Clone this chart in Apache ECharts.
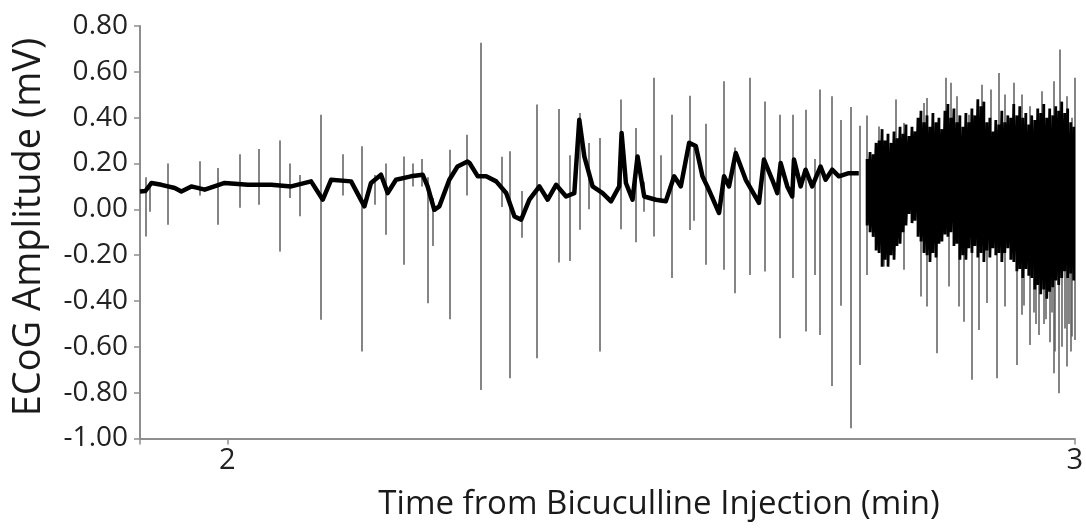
<!DOCTYPE html>
<html>
<head>
<meta charset="utf-8">
<script src="https://cdn.jsdelivr.net/npm/echarts@6/dist/echarts.min.js"></script>
<style>
html,body{margin:0;padding:0;background:#fff;}
#chart{width:1086px;height:529px;}
</style>
</head>
<body>
<div id="chart"></div>
<script>
// ---- axis ----
const xMin = 1.897, xMax = 3;
const xLabelValues = [2, 3];
const xTickValues = [1.897, 2, 3];
const yMin = -1, yMax = 0.8, yStep = 0.2;

// ---- slow baseline of the trace (time in min, amplitude in mV) ----
const baselineT = [1.897,1.9034,1.9105,1.9223,1.9380,1.9458,1.9576,1.9734,1.9969,2.0244,2.0518,2.0754,2.0989,2.1127,2.1225,2.1461,2.1618,2.1696,2.1814,2.1893,2.1991,2.2167,2.2305,2.2364,2.2443,2.2502,2.2620,2.2717,2.2835,2.2859,2.2956,2.3055,2.3173,2.3291,2.3389,2.3468,2.3565,2.3683,2.3781,2.3880,2.3998,2.4095,2.4154,2.4213,2.4311,2.4429,2.4528,2.4625,2.4653,2.4704,2.4782,2.4841,2.4920,2.5058,2.5175,2.5273,2.5352,2.5450,2.5529,2.5607,2.5665,2.5803,2.5862,2.5921,2.6000,2.6118,2.6274,2.6333,2.6431,2.6490,2.6530,2.6608,2.6667,2.6687,2.6766,2.6824,2.6902,2.7001,2.7060,2.7138,2.7217,2.7334,2.7452];
const baselineV = [0.078,0.08,0.115,0.107,0.093,0.078,0.10,0.086,0.115,0.107,0.107,0.10,0.122,0.042,0.129,0.122,0.013,0.115,0.151,0.071,0.129,0.144,0.151,0.10,-0.002,0.013,0.129,0.187,0.209,0.202,0.144,0.144,0.122,0.071,-0.031,-0.045,0.042,0.10,0.042,0.107,0.056,0.071,0.391,0.231,0.10,0.071,0.035,0.10,0.333,0.115,0.042,0.231,0.056,0.042,0.035,0.144,0.10,0.29,0.276,0.144,0.10,-0.016,0.144,0.10,0.246,0.129,0.028,0.217,0.129,0.071,0.202,0.10,0.056,0.217,0.10,0.173,0.10,0.187,0.129,0.173,0.144,0.158,0.158];

// ---- spikes: time, upper tip, lower tip ----
const spikeT = [1.9034,1.9086,1.9293,1.9675,1.9882,2.0146,2.0373,2.0617,2.0735,2.0860,2.1107,2.1363,2.1587,2.1736,2.1873,2.2078,2.2187,2.2293,2.2364,2.2423,2.2627,2.2827,2.2988,2.3244,2.3338,2.3479,2.3651,2.3907,2.4037,2.4154,2.4264,2.4398,2.4645,2.4822,2.4920,2.5038,2.5117,2.5246,2.5458,2.5509,2.5647,2.5862,2.5992,2.6165,2.6345,2.6518,2.6675,2.6824,2.6934,2.6989,2.7131,2.7237,2.7355,2.7464,2.7550,
  2.7688,2.7747,2.7885,2.7982,2.8179,2.8218,2.8257,2.8375,2.8473,2.8512,2.8532,2.8610,2.8630,2.8689,2.8748,2.8787,2.8866,2.8905,2.8963,2.9004,2.9081,2.9101,2.9180,2.9278,2.9317,2.9376,2.9475,2.9520,2.9572,2.9611,2.9660,2.9749,2.9808,2.9828,2.9880,2.9906,2.9965,2.9996,
  2.9400,2.9545,2.9640,2.9700,2.9730,2.9770,2.9850,2.9930,2.9950];
const spikeHi = [0.14,0.12,0.20,0.21,0.18,0.24,0.263,0.30,0.20,0.15,0.413,0.24,0.275,0.15,0.20,0.231,0.20,0.22,0.14,0.05,0.26,0.326,0.727,0.23,0.253,0.08,0.457,0.438,0.236,0.42,0.29,0.311,0.479,0.355,0.12,0.574,0.236,0.413,0.496,0.29,0.374,0.559,0.27,0.574,0.471,0.413,0.413,0.435,0.22,0.523,0.493,0.39,0.447,0.365,0.41,
  0.362,0.30,0.479,0.377,0.30,0.464,0.486,0.35,0.574,0.30,0.552,0.493,0.30,0.30,0.413,0.35,0.35,0.544,0.35,0.523,0.35,0.595,0.501,0.552,0.35,0.501,0.450,0.35,0.35,0.515,0.35,0.559,0.35,0.697,0.35,0.493,0.40,0.574,
  0.30,0.30,0.30,0.30,0.30,0.30,0.30,0.30,0.30];
const spikeLo = [-0.118,-0.01,-0.067,0.06,-0.067,0.007,0.02,-0.184,0.05,-0.03,-0.482,0.06,-0.62,0.02,-0.111,-0.242,0.10,0.10,-0.41,-0.16,-0.48,0.06,-0.788,0.01,-0.737,-0.124,-0.65,-0.232,-0.225,-0.089,0.0,-0.62,-0.087,-0.144,-0.01,-0.118,0.03,-0.30,-0.09,-0.05,-0.242,-0.264,-0.366,-0.286,-0.271,-0.562,-0.30,-0.533,-0.286,-0.548,-0.771,-0.421,-0.955,-0.679,-0.286,
  0.0,-0.249,0.0,-0.264,-0.380,0.0,-0.424,-0.628,0.0,-0.337,0.0,0.0,-0.424,-0.490,0.0,-0.744,-0.526,0.0,-0.409,0.0,-0.737,0.0,-0.424,0.0,-0.679,-0.46,-0.592,-0.45,-0.548,0.0,-0.48,-0.715,-0.803,0.0,-0.52,-0.686,-0.555,-0.57,
  -0.42,-0.50,-0.50,-0.58,-0.45,-0.62,-0.60,-0.50,-0.62];

// ---- dense discharge band: time, upper edge, lower edge ----
const denseT = [2.7550,2.7585,2.7621,2.7656,2.7691,2.7727,2.7762,2.7797,2.7833,2.7868,
  2.7903,2.7939,2.7974,2.8009,2.8045,2.8080,2.8115,2.8151,2.8186,2.8221,
  2.8257,2.8292,2.8327,2.8363,2.8398,2.8433,2.8469,2.8504,2.8539,2.8575,
  2.8610,2.8645,2.8681,2.8716,2.8751,2.8787,2.8822,2.8857,2.8893,2.8928,
  2.8963,2.8999,2.9034,2.9069,2.9105,2.9140,2.9175,2.9211,2.9246,2.9281,
  2.9317,2.9352,2.9387,2.9423,2.9458,2.9493,2.9529,2.9564,2.9599,2.9635,
  2.9670,2.9705,2.9741,2.9776,2.9811,2.9847,2.9882,2.9917,2.9953,2.9988];
const denseHi = [0.22,0.25,0.24,0.29,0.30,0.35,0.30,0.33,0.29,0.34,
  0.31,0.36,0.33,0.37,0.32,0.36,0.34,0.40,0.43,0.38,
  0.41,0.36,0.42,0.38,0.40,0.35,0.43,0.46,0.40,0.44,
  0.38,0.41,0.36,0.42,0.38,0.44,0.41,0.48,0.45,0.47,
  0.38,0.40,0.34,0.39,0.37,0.43,0.38,0.41,0.40,0.46,
  0.41,0.45,0.40,0.42,0.37,0.41,0.39,0.44,0.42,0.46,
  0.40,0.44,0.41,0.45,0.43,0.47,0.42,0.44,0.38,0.36];
const denseLo = [-0.07,-0.10,-0.12,-0.18,-0.19,-0.25,-0.22,-0.25,-0.20,-0.22,
  -0.16,-0.15,-0.10,-0.07,-0.02,-0.06,-0.05,-0.12,-0.14,-0.19,
  -0.20,-0.23,-0.19,-0.21,-0.15,-0.14,-0.11,-0.12,-0.10,-0.16,
  -0.15,-0.22,-0.20,-0.22,-0.17,-0.19,-0.16,-0.21,-0.19,-0.23,
  -0.18,-0.21,-0.17,-0.20,-0.19,-0.23,-0.19,-0.17,-0.22,-0.23,
  -0.27,-0.26,-0.30,-0.26,-0.29,-0.30,-0.35,-0.33,-0.37,-0.35,
  -0.39,-0.36,-0.34,-0.31,-0.33,-0.30,-0.27,-0.30,-0.28,-0.31];

const xTitle = 'Time from Bicuculline Injection (min)';
const yTitle = 'ECoG Amplitude (mV)';

// ---- build series data ----
const traceData = baselineT.map((t, i) => [t, baselineV[i]]);
const denseData = [];
denseT.forEach((t, i) => { denseData.push([t, denseHi[i]]); denseData.push([t, denseLo[i]]); });
const spikeData = spikeT.map((t, i) => ({ coords: [[t, spikeHi[i]], [t, spikeLo[i]]] }));

const FONT = '"Open Sans", "Noto Sans", sans-serif';
const axisColor = '#8e8e8e';

const chart = echarts.init(document.getElementById('chart'), null, { renderer: 'canvas' });
chart.setOption({
  animation: false,
  backgroundColor: '#ffffff',
  grid: { left: 140, right: 9, top: 26, bottom: 90.5, containLabel: false },
  xAxis: {
    type: 'value', min: xMin, max: xMax,
    axisLine: { show: true, onZero: false, lineStyle: { color: axisColor, width: 2 } },
    axisTick: { show: true, customValues: xTickValues, length: 6, lineStyle: { color: axisColor, width: 1.5 } },
    axisLabel: { customValues: xLabelValues, margin: 8, fontSize: 29, fontFamily: FONT, color: '#222', formatter: v => String(v) },
    splitLine: { show: false }
  },
  yAxis: {
    type: 'value', min: yMin, max: yMax, interval: yStep,
    axisLine: { show: true, lineStyle: { color: axisColor, width: 2 } },
    axisTick: { show: true, length: 6, lineStyle: { color: axisColor, width: 1.5 } },
    axisLabel: { margin: 12, fontSize: 28, fontFamily: FONT, color: '#222', formatter: v => v.toFixed(2) },
    splitLine: { show: false }
  },
  graphic: [
    { type: 'text', x: 29, y: 227, rotation: Math.PI / 2,
      style: { text: yTitle, font: '38px ' + FONT, fill: '#1a1a1a', align: 'center', verticalAlign: 'middle' } },
    { type: 'text', x: 659, y: 505,
      style: { text: xTitle, font: '33px ' + FONT, fill: '#1a1a1a', align: 'center', verticalAlign: 'middle' } }
  ],
  series: [
    { type: 'lines', coordinateSystem: 'cartesian2d', silent: true, z: 1,
      lineStyle: { color: '#5c5c5c', width: 1.5, opacity: 1 }, data: spikeData },
    { type: 'line', data: traceData, symbol: 'none', silent: true, z: 3,
      lineStyle: { color: '#000', width: 4.5, join: 'round' } },
    { type: 'line', data: denseData, symbol: 'none', silent: true, z: 2,
      lineStyle: { color: '#000', width: 2.8 } }
  ]
});
</script>
</body>
</html>
